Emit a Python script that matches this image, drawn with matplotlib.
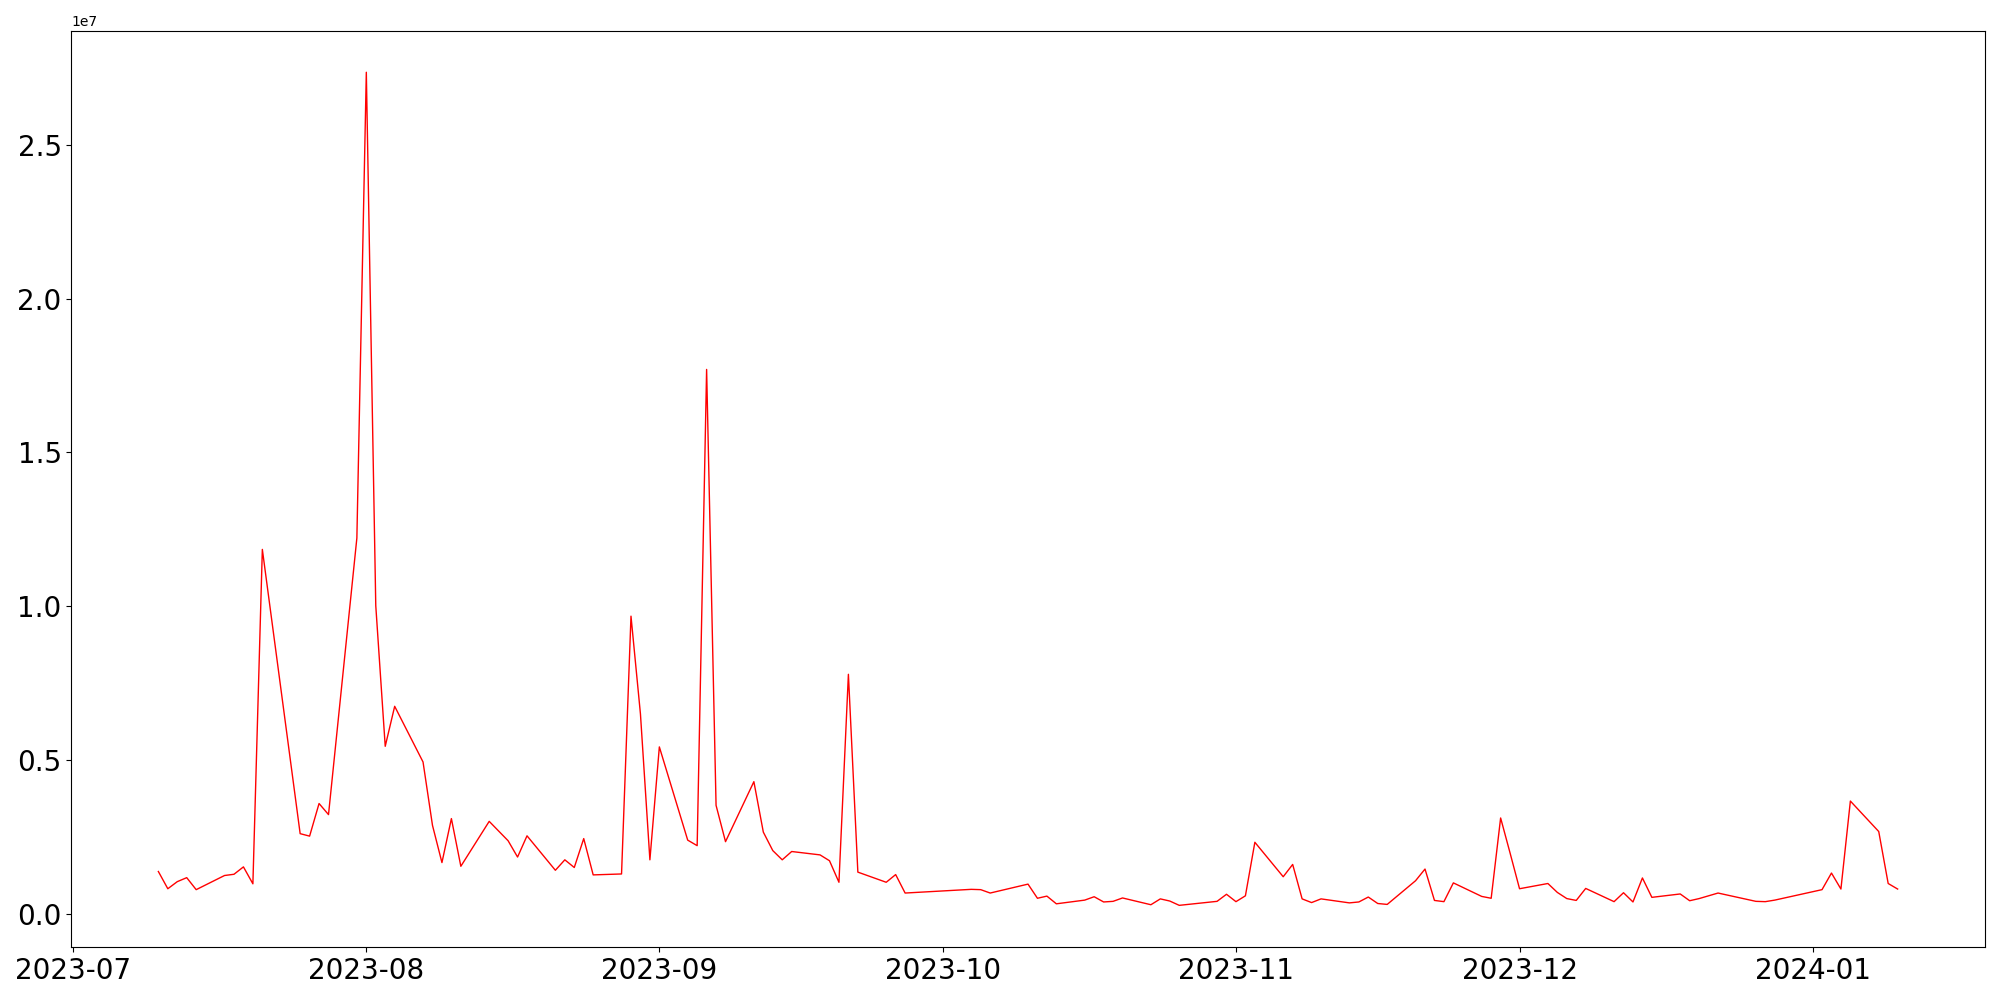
import matplotlib
matplotlib.use("Agg")
import matplotlib.pyplot as plt
import pandas as pd

dates = [
    "2023-07-10", "2023-07-11", "2023-07-12", "2023-07-13", "2023-07-14",
    "2023-07-17", "2023-07-18", "2023-07-19", "2023-07-20", "2023-07-21",
    "2023-07-25", "2023-07-26", "2023-07-27", "2023-07-28", "2023-07-31",
    "2023-08-01", "2023-08-02", "2023-08-03", "2023-08-04", "2023-08-07",
    "2023-08-08", "2023-08-09", "2023-08-10", "2023-08-11", "2023-08-14",
    "2023-08-16", "2023-08-17", "2023-08-18", "2023-08-21", "2023-08-22",
    "2023-08-23", "2023-08-24", "2023-08-25", "2023-08-28", "2023-08-29",
    "2023-08-30", "2023-08-31", "2023-09-01", "2023-09-04", "2023-09-05",
    "2023-09-06", "2023-09-07", "2023-09-08", "2023-09-11", "2023-09-12",
    "2023-09-13", "2023-09-14", "2023-09-15", "2023-09-18", "2023-09-19",
    "2023-09-20", "2023-09-21", "2023-09-22", "2023-09-25", "2023-09-26",
    "2023-09-27", "2023-10-04", "2023-10-05", "2023-10-06", "2023-10-10",
    "2023-10-11", "2023-10-12", "2023-10-13", "2023-10-16", "2023-10-17",
    "2023-10-18", "2023-10-19", "2023-10-20", "2023-10-23", "2023-10-24",
    "2023-10-25", "2023-10-26", "2023-10-30", "2023-10-31", "2023-11-01",
    "2023-11-02", "2023-11-03", "2023-11-06", "2023-11-07", "2023-11-08",
    "2023-11-09", "2023-11-10", "2023-11-13", "2023-11-14", "2023-11-15",
    "2023-11-16", "2023-11-17", "2023-11-20", "2023-11-21", "2023-11-22",
    "2023-11-23", "2023-11-24", "2023-11-27", "2023-11-28", "2023-11-29",
    "2023-11-30", "2023-12-01", "2023-12-04", "2023-12-05", "2023-12-06",
    "2023-12-07", "2023-12-08", "2023-12-11", "2023-12-12", "2023-12-13",
    "2023-12-14", "2023-12-15", "2023-12-18", "2023-12-19", "2023-12-20",
    "2023-12-22", "2023-12-26", "2023-12-27", "2023-12-28", "2024-01-02",
    "2024-01-03", "2024-01-04", "2024-01-05", "2024-01-08", "2024-01-09",
    "2024-01-10",
]

# values in millions
values_m = [
    1.38, 0.82, 1.05, 1.18, 0.79,
    1.25, 1.29, 1.53, 0.98, 11.85,
    2.61, 2.53, 3.59, 3.23, 12.22,
    27.36, 10.02, 5.45, 6.75, 4.94,
    2.88, 1.67, 3.10, 1.55, 3.01,
    2.38, 1.85, 2.54, 1.42, 1.76,
    1.51, 2.45, 1.27, 1.30, 9.68,
    6.50, 1.76, 5.43, 2.40, 2.22,
    17.70, 3.53, 2.35, 4.30, 2.66,
    2.06, 1.76, 2.03, 1.92, 1.73,
    1.03, 7.79, 1.36, 1.03, 1.28,
    0.68, 0.80, 0.79, 0.68, 0.97,
    0.51, 0.58, 0.33, 0.45, 0.56,
    0.39, 0.41, 0.52, 0.30, 0.49,
    0.42, 0.28, 0.41, 0.64, 0.40,
    0.59, 2.33, 1.21, 1.61, 0.49,
    0.37, 0.49, 0.36, 0.39, 0.55,
    0.34, 0.31, 1.08, 1.46, 0.44,
    0.40, 1.01, 0.57, 0.51, 3.12,
    1.98, 0.82, 0.99, 0.70, 0.50,
    0.44, 0.83, 0.40, 0.69, 0.39,
    1.17, 0.54, 0.65, 0.43, 0.50,
    0.68, 0.41, 0.40, 0.45, 0.79,
    1.33, 0.81, 3.67, 2.68, 0.99,
    0.81,
]

x = pd.to_datetime(dates)
y = [v * 1e6 for v in values_m]

fig, ax = plt.subplots(figsize=(20, 10), dpi=100)
ax.plot(x, y, color="red", linewidth=1.0)
ax.tick_params(axis="both", labelsize=20)
fig.subplots_adjust(left=0.0357, right=0.9923, top=0.9694, bottom=0.053)
fig.savefig("out.png", dpi=100)
